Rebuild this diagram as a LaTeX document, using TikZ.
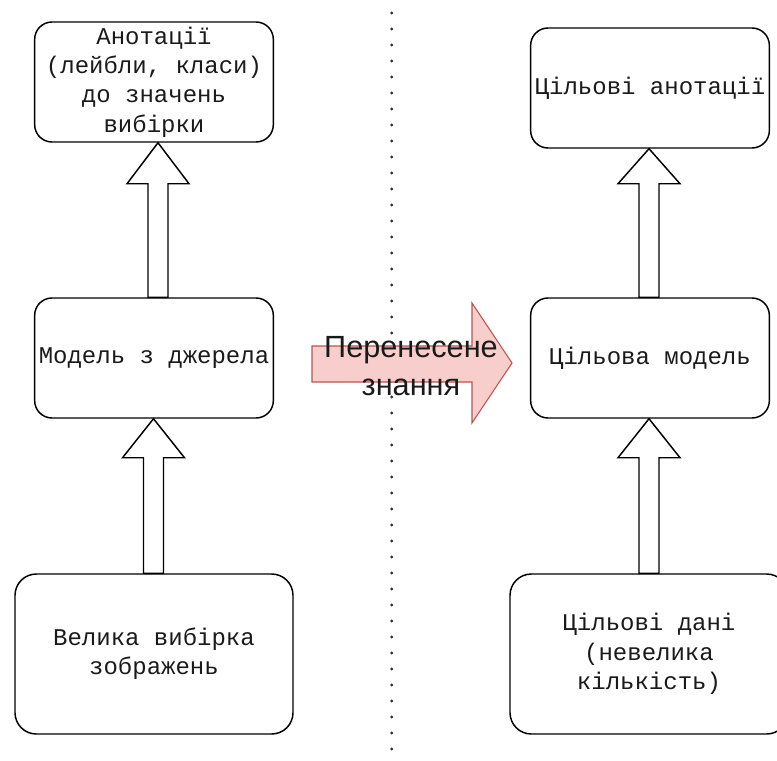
\documentclass[tikz,border=0pt]{standalone}
\usepackage{fontspec}
\setmainfont{Liberation Sans}
\newfontfamily\monof{Liberation Mono}
\usetikzlibrary{calc}
\definecolor{pinkfill}{HTML}{F8CECC}
\definecolor{pinkline}{HTML}{B85450}
\definecolor{txt}{HTML}{1A1A1A}
\newcommand\blockup[4]{%
  \coordinate (bx) at (#1,0);
  \draw[barrow] let \p1=(#2.north -| bx), \p2=(#3.south -| bx) in
    (\x1-7.5pt,\y1) -- (\x1-7.5pt,\y2-#4) -- (\x1-23.25pt,\y2-#4) -- (\p2)
    -- (\x1+23.25pt,\y2-#4) -- (\x1+7.5pt,\y2-#4) -- (\x1+7.5pt,\y1) -- cycle;}
\begin{document}
\begin{tikzpicture}[x=0.75pt,y=-0.75pt,
  box/.style={draw, line width=1.1pt, rounded corners=13pt, align=center,
    text=txt, font=\monof\fontsize{18}{22}\selectfont, inner sep=0pt,
    minimum width=179pt, minimum height=90pt},
  bigbox/.style={box, rounded corners=16pt, minimum width=208.5pt, minimum height=120pt},
  barrow/.style={draw, fill=white, line width=1.1pt, line join=miter},
  dotline/.style={line width=2.5pt, line cap=round, dash pattern=on 0pt off 12pt, black!80},
  transfer/.style={draw=pinkline, fill=pinkfill, line width=0.8pt},
  transtext/.style={align=center, text=txt, font=\fontsize{23}{28.5}\selectfont, inner sep=0pt}]
\useasboundingbox (0,0) rectangle (777,760);
\clip (0,0) rectangle (777,760);
% divider
\coordinate (dtop) at (391.7,13);
\coordinate (dbot) at (391.7,765);
\draw[dotline] (dtop) -- (dbot);
% left column
\node[box] (tl) at (154,82) {Анотації\\(лейбли, класи)\\до значень\\вибірки};
\node[box] (ml) at (154,358) {Модель з джерела};
\node[bigbox] (bl) at (154,654) {Велика вибірка\\зображень};
% right column
\node[box] (tr) at (650,88) {Цільові анотації};
\node[box] (mr) at (650,358) {Цільова модель};
\node[bigbox] (br) at (649,654) {Цільові дані\\(невелика\\кількість)};
% block arrows
\blockup{158}{ml}{tl}{30.75pt}
\blockup{153.5}{bl}{ml}{29.25pt}
\blockup{649}{mr}{tr}{26.25pt}
\blockup{649}{br}{mr}{29.25pt}
% transfer arrow
\draw[transfer] (312,346) -- (472,346) -- (472,303) -- (512,363) -- (472,423)
  -- (472,382) -- (312,382) -- cycle;
\node[transtext] (kt) at (411,366) {Перенесене\\знання};
\end{tikzpicture}
\end{document}
